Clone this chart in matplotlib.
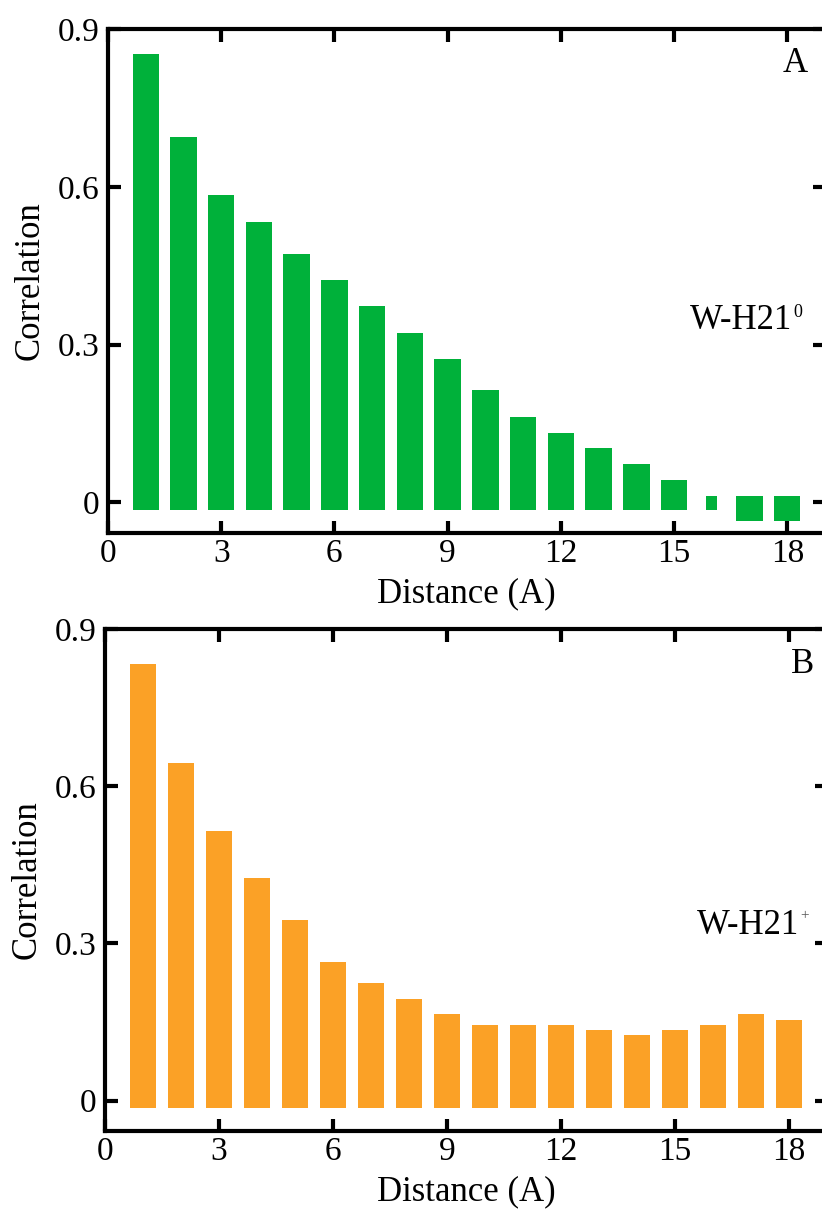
import numpy as np
import matplotlib.pyplot as plt

plt.rcParams['font.family'] = ['Liberation Serif', 'DejaVu Serif']

# ---- data ----
distance = np.arange(1, 19)

# W-H21 neutral: bar tops and bottoms
neutral_top = [0.853, 0.694, 0.584, 0.533, 0.473, 0.423, 0.373, 0.323, 0.273,
               0.213, 0.163, 0.133, 0.103, 0.073, 0.043, 0.013, 0.013, 0.013]
neutral_bottom = [-0.015] * 16 + [-0.035, -0.035]
neutral_width = [0.7] * 15 + [0.3, 0.7, 0.7]

# W-H21 protonated
charged_top = [0.834, 0.644, 0.515, 0.425, 0.344, 0.265, 0.225, 0.194, 0.165,
               0.144, 0.144, 0.144, 0.134, 0.125, 0.134, 0.144, 0.165, 0.154]
charged_bottom = [-0.015] * 18

xticks = [0, 3, 6, 9, 12, 15, 18]
yticks = [0, 0.3, 0.6, 0.9]
ytick_labels = ['0', '0.3', '0.6', '0.9']

GREEN = '#00B13A'
ORANGE = '#FBA126'


def style_axis(ax):
    ax.set_xlim(0, 19)
    ax.set_ylim(-0.058, 0.9)
    ax.set_xticks(xticks)
    ax.set_yticks(yticks)
    ax.set_yticklabels(ytick_labels)
    for s in ax.spines.values():
        s.set_linewidth(3)
    ax.tick_params(direction='in', length=9, width=3, top=True, right=True,
                   labelsize=24)
    ax.tick_params(axis='x', pad=4)
    ax.tick_params(axis='y', pad=6)
    ax.set_xlabel('Distance (A)', fontsize=25, labelpad=6)
    ax.set_ylabel('Correlation', fontsize=25, labelpad=8)


def species_label(ax, x, y, name, sup, sup_size, sup_color='black'):
    t = ax.text(x, y, name, fontsize=25, ha='right', va='baseline')
    ax.annotate(sup, xy=(1, 1), xycoords=t, xytext=(1, 0),
                textcoords='offset points', ha='left', va='top',
                fontsize=sup_size, color=sup_color)


fig = plt.figure(figsize=(8.22, 12.09), dpi=100)

# panel A
ax1 = fig.add_axes([108 / 822, 1 - 533 / 1209, 717 / 822, 504 / 1209])
ax1.bar(distance, np.array(neutral_top) - np.array(neutral_bottom),
        bottom=neutral_bottom, width=neutral_width, color=GREEN)
style_axis(ax1)
ax1.text(18.55, 0.835, 'A', fontsize=25, ha='right', va='center')
species_label(ax1, 18.13, 0.33, 'W-H21', '0', 13)

# panel B
ax2 = fig.add_axes([105 / 822, 1 - 1131 / 1209, 722 / 822, 502 / 1209])
ax2.bar(distance, np.array(charged_top) - np.array(charged_bottom),
        bottom=charged_bottom, width=0.7, color=ORANGE)
style_axis(ax2)
ax2.text(18.65, 0.833, 'B', fontsize=25, ha='right', va='center')
species_label(ax2, 18.27, 0.318, 'W-H21', '+', 11, '#555555')

fig.savefig('out.png', dpi=100)
